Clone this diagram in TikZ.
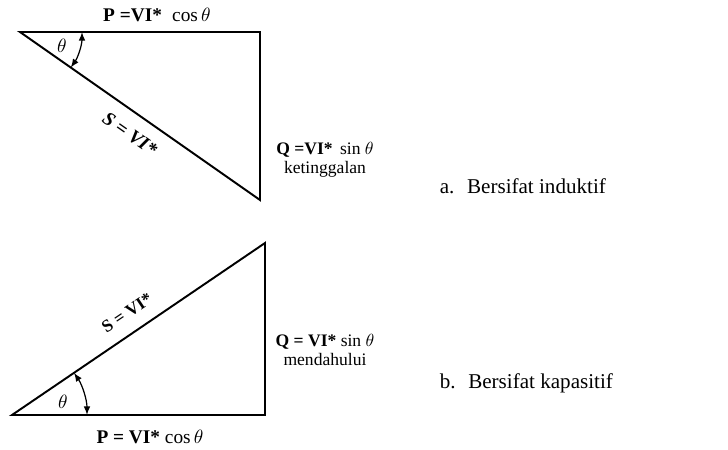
\documentclass[tikz,border=0pt]{standalone}
\usepackage{fontspec}
\setmainfont{Liberation Serif}
\begin{document}
\begin{tikzpicture}[x=0.02cm,y=-0.02cm,line width=1.1pt]
	\useasboundingbox (0,0) rectangle (728,450);
	% a. induktif
	\coordinate (A1) at (20,32);
	\coordinate (B1) at (260,32);
	\coordinate (C1) at (260,200);
	\draw (A1) -- (B1) -- (C1) -- cycle;
	\draw[latex-latex, line width=0.7pt] ([shift={(0:62)}]A1) arc (0:35:62);
	\node[font=\fontsize{11}{12}\selectfont] (theta1) at (62,46) {\(\theta\)};
	\node[font=\fontsize{11}{12}\selectfont] (P1) at (157,15) {\textbf{P =VI*}\; \(\cos\theta\)};
	\node[font=\fontsize{11}{12}\selectfont, rotate=-35, inner sep=0pt] (S1) at (130,134) {\textbf{\textit{S} = \textit{VI*}}};
	\node[font=\fontsize{10}{11}\selectfont, align=center] (Q1) at (325,160) {\textbf{Q =VI*}\, sin \(\theta\)\\ketinggalan};
	\node[font=\fontsize{12}{14}\selectfont, anchor=west] (ind) at (433,186) {a.\hspace{0.6em}Bersifat induktif};
	% b. kapasitif
	\coordinate (A2) at (12,415);
	\coordinate (B2) at (265,415);
	\coordinate (C2) at (265,243);
	\draw (A2) -- (B2) -- (C2) -- cycle;
	\draw[latex-latex, line width=0.7pt] ([shift={(0:75)}]A2) arc (0:-34.2:75);
	\node[font=\fontsize{11}{12}\selectfont] (theta2) at (63,402) {\(\theta\)};
	\node[font=\fontsize{11}{12}\selectfont] (P2) at (150,437) {\textbf{P = VI*} \(\cos\theta\)};
	\node[font=\fontsize{10}{11}\selectfont, rotate=34, inner sep=0pt] (S2) at (127,313) {\textbf{S = VI*}};
	\node[font=\fontsize{10}{11}\selectfont, align=center] (Q2) at (325,350) {\textbf{Q = VI*} sin \(\theta\)\\mendahului};
	\node[font=\fontsize{12}{14}\selectfont, anchor=west] (kap) at (433,383) {b.\hspace{0.6em}Bersifat kapasitif};
\end{tikzpicture}
\end{document}
